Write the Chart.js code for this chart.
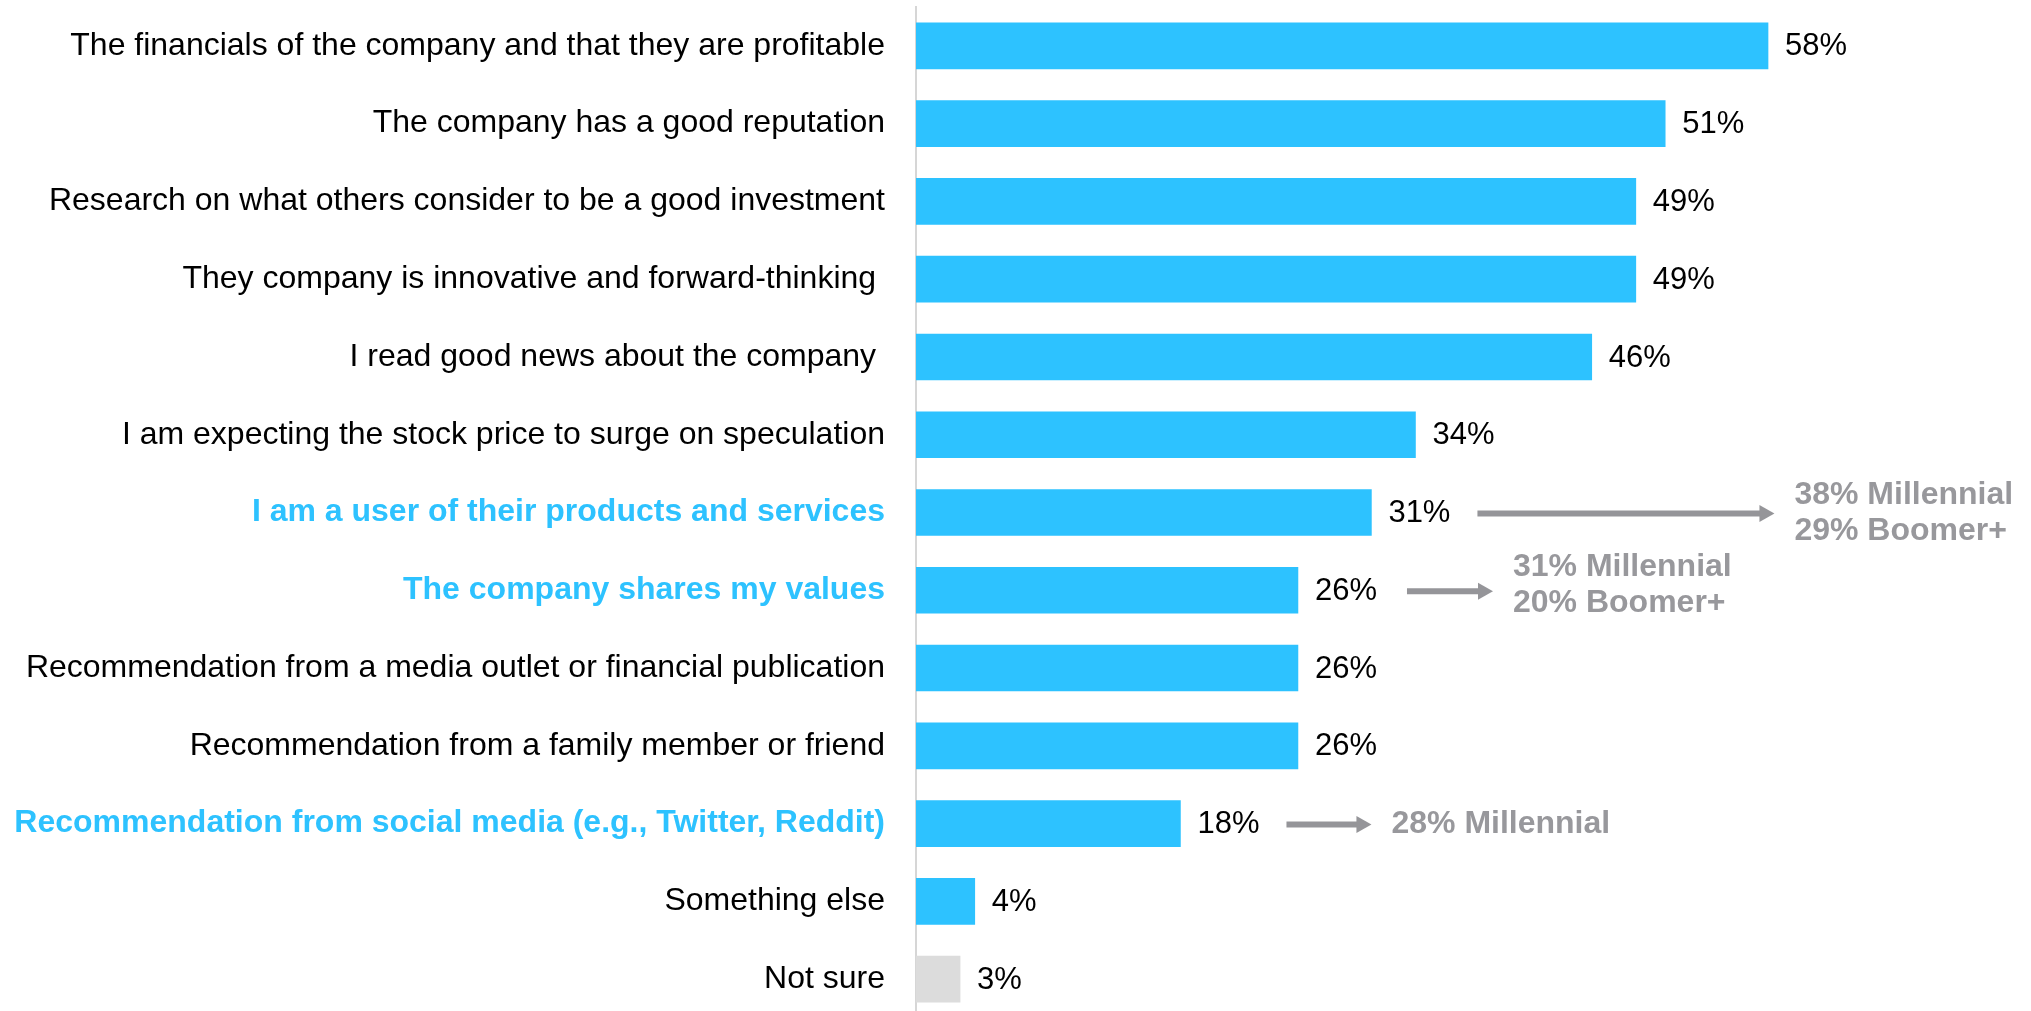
<!DOCTYPE html>
<html><head><meta charset="utf-8">
<script src="https://cdn.jsdelivr.net/npm/chart.js@4/dist/chart.umd.min.js"></script>
<style>html,body{margin:0;padding:0;overflow:hidden;background:#fff}#wrap{width:2031px;height:1020px;position:relative}</style>
</head><body><div id="wrap"><canvas id="c"></canvas></div>
<script>
const categories = [
  "The financials of the company and that they are profitable",
  "The company has a good reputation",
  "Research on what others consider to be a good investment",
  "They company is innovative and forward-thinking ",
  "I read good news about the company ",
  "I am expecting the stock price to surge on speculation",
  "I am a user of their products and services",
  "The company shares my values",
  "Recommendation from a media outlet or financial publication",
  "Recommendation from a family member or friend",
  "Recommendation from social media (e.g., Twitter, Reddit)",
  "Something else",
  "Not sure"
];
const values = [58, 51, 49, 49, 46, 34, 31, 26, 26, 26, 18, 4, 3];
const valueLabels = values.map(v => v + "%");
const highlightedRows = [6, 7, 10];
const greyRows = [12];
const calloutRows = [6, 7, 10];
const calloutTexts = [
  ["38% Millennial", "29% Boomer+"],
  ["31% Millennial", "20% Boomer+"],
  ["28% Millennial"]
];

const BLUE = "#2DC2FF";
const GREY_BAR = "#DCDCDC";
const NOTE = "#98989C";
const ARROW = "#959599";
const FONT = "'Liberation Sans', Arial, sans-serif";

// callout drawing styles (pixel offsets)
const arrowGaps = [27, 30, 27];
const arrowLengths = [297, 86, 85];
const textShiftY = [0, -6, 0];

const labelPlugin = {
  id: "labels",
  afterDatasetsDraw(chart) {
    const ctx = chart.ctx;
    const meta = chart.getDatasetMeta(0);
    ctx.save();
    ctx.textBaseline = "middle";
    ctx.textAlign = "left";
    const labelEnds = [];
    meta.data.forEach((bar, i) => {
      ctx.font = "31px " + FONT;
      ctx.fillStyle = "#000";
      const x = bar.x + 17;
      ctx.fillText(valueLabels[i], x, bar.y + 1);
      labelEnds[i] = x + ctx.measureText(valueLabels[i]).width;
    });
    calloutRows.forEach((row, k) => {
      const bar = meta.data[row];
      const x0 = labelEnds[row] + arrowGaps[k];
      const tip = x0 + arrowLengths[k];
      const y = bar.y + 1;
      ctx.strokeStyle = ARROW;
      ctx.fillStyle = ARROW;
      ctx.lineWidth = 6;
      ctx.beginPath();
      ctx.moveTo(x0, y);
      ctx.lineTo(tip - 13, y);
      ctx.stroke();
      ctx.beginPath();
      ctx.moveTo(tip, y);
      ctx.lineTo(tip - 15, y - 8.5);
      ctx.lineTo(tip - 15, y + 8.5);
      ctx.closePath();
      ctx.fill();
      const lines = calloutTexts[k];
      ctx.font = "bold 32px " + FONT;
      ctx.fillStyle = NOTE;
      const lh = 36;
      const startY = bar.y + textShiftY[k] - (lines.length - 1) * lh / 2;
      lines.forEach((t, j) => ctx.fillText(t, tip + 20, startY + j * lh + 1));
    });
    ctx.restore();
  }
};

new Chart(document.getElementById("c"), {
  type: "bar",
  data: {
    labels: categories,
    datasets: [{
      data: values,
      backgroundColor: values.map((v, i) => greyRows.includes(i) ? GREY_BAR : BLUE),
      borderWidth: 0,
      barThickness: 46
    }]
  },
  options: {
    indexAxis: "y",
    responsive: true,
    maintainAspectRatio: false,
    animation: false,
    layout: { padding: { top: 7, bottom: 2, left: 0, right: 86.7 } },
    plugins: { legend: { display: false }, tooltip: { enabled: false } },
    scales: {
      x: { display: false, min: 0, max: 70 },
      y: {
        grid: { display: false, drawTicks: false },
        border: { display: true, color: "#D6D6D6", width: 2 },
        ticks: {
          padding: 31,
          autoSkip: false,
          color: c => highlightedRows.includes(c.index) ? BLUE : "#000",
          font: c => ({ family: FONT, size: 32, weight: highlightedRows.includes(c.index) ? "bold" : "normal" })
        },
        afterFit: s => { s.width = 916; s.paddingTop = 0; s.paddingBottom = 0; }
      }
    }
  },
  plugins: [labelPlugin]
});
</script>
</body></html>
